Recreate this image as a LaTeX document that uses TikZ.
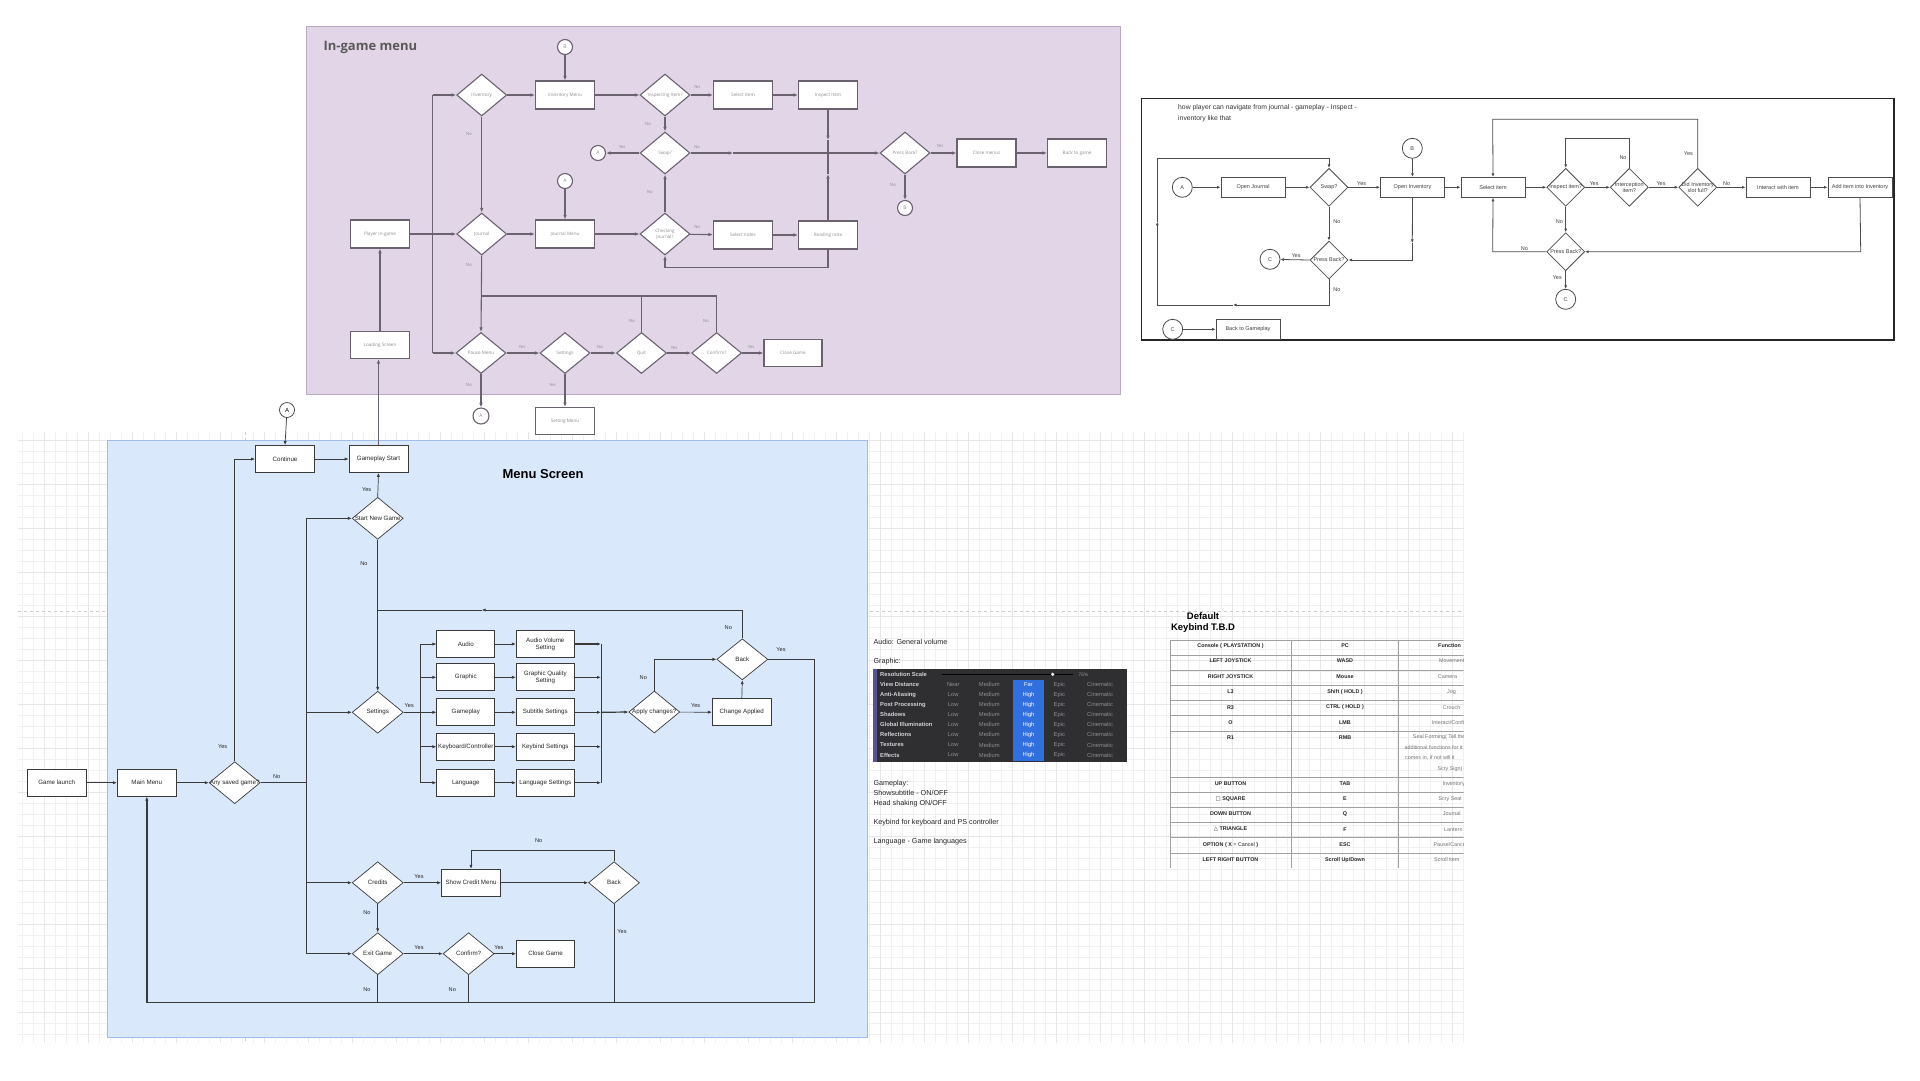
\documentclass[tikz,border=0pt]{standalone}
\usepackage{fontspec}
\setmainfont{Liberation Sans}
\newfontfamily\igfont{Open Sans}
\newfontfamily\symfont{DejaVu Sans}
\usetikzlibrary{shapes.geometric,arrows.meta}
\newcommand\fsz[2]{\fontsize{#1}{#2}\selectfont}
\definecolor{igfill}{HTML}{E1D5E7}
\definecolor{igborder}{HTML}{BCA9C6}
\definecolor{igline}{HTML}{6B6270}
\definecolor{igtext}{HTML}{8E8A90}
\definecolor{msfill}{HTML}{DAE8FC}
\definecolor{msborder}{HTML}{9FBDE8}
\definecolor{mline}{HTML}{3A3A3A}
\definecolor{gridc}{HTML}{F1F1F1}
\definecolor{gridm}{HTML}{E7E7E7}
\definecolor{tabbg}{HTML}{2F2F31}
\definecolor{tabhl}{HTML}{2F6FDE}
\definecolor{tabtxt}{HTML}{D2D2D2}
\definecolor{tabval}{HTML}{8E8E8E}
\definecolor{kbline}{HTML}{A0A0A0}
\begin{document}
\begin{tikzpicture}[x=1pt,y=-1pt,
  every label/.style={inner sep=0,align=center},
  gbox/.style={draw=igline,fill=white,line width=1.1,minimum width=59,minimum height=28,inner sep=0},
  gdia/.style={diamond,draw=igline,fill=white,line width=1.1,minimum width=50,minimum height=42,inner sep=0},
  gcirc/.style={circle,draw=igline,fill=white,line width=1.1,minimum size=15,inner sep=0,font=\igfont\fsz{5}{6},text=igtext},
  gl/.style={draw=igline,line width=1.1},
  ga/.style={gl,-{Latex[length=4.5pt,width=3.6pt]}},
  glab/.style={font=\igfont\fsz{4.2}{5},text=igtext,inner sep=0},
  mbox/.style={draw=mline,fill=white,line width=0.7,minimum width=59,minimum height=27,inner sep=0},
  mdia/.style={diamond,draw=mline,fill=white,line width=0.7,minimum width=51,minimum height=42,inner sep=0},
  mcirc/.style={circle,draw=mline,fill=white,line width=0.7,minimum size=15,inner sep=0,font=\fsz{6}{7}},
  ml/.style={draw=mline,line width=0.7},
  ma/.style={ml,-{Latex[length=4pt,width=3.2pt]}},
  mlab/.style={font=\fsz{5.6}{6.5},text=black!85,inner sep=0},
  rbox/.style={draw=black!70,fill=white,line width=0.8,minimum width=64,minimum height=20,inner sep=0},
  rdia/.style={diamond,draw=black!70,fill=white,line width=0.8,minimum width=38,minimum height=38,inner sep=0},
  rcirc/.style={circle,draw=black!70,fill=white,line width=0.8,minimum size=20,inner sep=0,font=\fsz{5.5}{6.5},text=black!75},
  rl/.style={draw=black!70,line width=0.8},
  ra/.style={rl,-{Latex[length=3.6pt,width=3pt]}},
  rlab/.style={font=\fsz{5.5}{6.5},text=black!75,inner sep=0},
  txt/.style={font=\fsz{7.2}{8.5},text=black!85,anchor=west,inner sep=0},
  tlab/.style={font=\bfseries\fsz{5.8}{6.5},text=tabtxt,anchor=west,inner sep=0},
  tval/.style={font=\fsz{5.8}{6.5},text=tabval,inner sep=0},
  thl/.style={font=\fsz{5.8}{6.5},text=white,inner sep=0},
  kb/.style={font=\bfseries\fsz{5.4}{6.5},text=black!85,inner sep=0},
  kbf/.style={font=\fsz{5.4}{6.5},text=black!55,anchor=west,inner sep=0},
]
\useasboundingbox (0,0) rectangle (1920,1080);
\fill[white] (0,0) rectangle (1920,1080);

% ---------- grid background ----------
\begin{scope}
\clip (18,432) rectangle (1464,1042);
\draw[gridc,line width=0.4pt,step=11pt] (0,420) grid (1470,1050);
\draw[gridm,line width=0.5pt,step=44pt] (0,420) grid (1470,1050);
\end{scope}
\draw[gray!40,dashed,line width=0.5] (18,611) -- (1464,611);
\draw[gray!40,dashed,line width=0.5] (245,432) -- (245,1042);

% ---------- frames ----------
\draw[igborder,fill=igfill,line width=1] (306,26) rectangle (1120,394);
\draw[msborder,fill=msfill,line width=0.8] (107,440) rectangle (867,1037);
\node[font=\igfont\bfseries\fsz{13}{15},text=black!65,anchor=west] (igtitle) at (320,47) {In-game menu};
\node[font=\bfseries\fsz{13}{15}] (mstitle) at (543,474) {Menu Screen};

% ---------- in-game menu ----------
\begin{scope}[every label/.append style={font=\igfont\fsz{4.6}{5.4},text=igtext}]
\node[gdia,label=center:Inventory] (inv) at (481.7,95) {};
\node[gbox,label=center:Inventory Menu] (invm) at (565,95) {};
\node[gdia,label=center:{Inspecting Item?}] (insq) at (665,95) {};
\node[gbox,label=center:Select Item] (seli) at (743,95) {};
\node[gbox,label=center:Inspect Item] (insi) at (828,95) {};
\node[gdia,label=center:Swap?] (swp) at (665,153) {};
\node[gcirc] (ca1) at (598,153) {A};
\node[gcirc] (cb1) at (565,47) {B};
\node[gcirc] (ca2) at (565,181) {A};
\node[gbox,label=center:Player In-game] (pig) at (380,234) {};
\node[gdia,label=center:Journal] (jou) at (481.7,234) {};
\node[gbox,label=center:Journal Menu] (joum) at (565,234) {};
\node[gdia,label=center:{Checking\\Journal?}] (chk) at (665,234) {};
\node[gbox,label=center:Select notes] (seln) at (743,235) {};
\node[gbox,label=center:Reading note] (rdn) at (828,235) {};
\node[gdia,label=center:{Press Back?}] (pb) at (905,153) {};
\node[gbox,label=center:Close menus] (clm) at (986.5,153) {};
\node[gbox,label=center:Back to game] (btg) at (1077,153) {};
\node[gcirc] (cb2) at (905,208) {B};
\node[gbox,minimum height=27,label=center:Loading Screen] (lds) at (380,345) {};
\node[gdia,minimum height=41,label=center:Pause Menu] (pm) at (481,353) {};
\node[gdia,minimum height=41,label=center:Settings] (pset) at (565,353) {};
\node[gdia,minimum height=41,label=center:Quit] (quit) at (641.5,353) {};
\node[gdia,minimum height=41,label=center:Confirm?] (conf) at (716.6,353) {};
\node[gbox,minimum width=58,minimum height=27,label=center:Close Game] (clg) at (793,353) {};
\node[gcirc,minimum size=16] (ca3) at (481,416) {A};
\node[gbox,minimum height=27,label=center:Setting Menu] (stm) at (565,421) {};
\end{scope}

\coordinate (tT) at (432.7,95);
\coordinate (tJ) at (432.7,234);
\coordinate (tB) at (432.7,353);
\coordinate (sm) at (733,153);
\coordinate (jn) at (828,153);
\coordinate (mA) at (828,140);
\coordinate (mB) at (828,174);
\coordinate (lp) at (481,296);
\coordinate (lq) at (641.5,296);

\draw[gl] (tT) -- (tB);
\draw[gl,line width=1.8] (pig.east) -- (tJ);
\draw[ga] (tJ) -- (jou.west);
\draw[ga] (tT) -- (inv.west);
\draw[ga] (tB) -- (pm.west);
\draw[ga] (inv) -- (invm);
\draw[ga] (inv.south) -- (jou.north);
\draw[ga] (cb1) -- (invm.north);
\draw[ga] (invm) -- (insq);
\draw[ga] (insq) -- (seli);
\draw[ga] (insq.south) -- (swp.north);
\draw[ga] (swp.west) -- (ca1);
\draw[ga] (swp.east) -- (sm);
\draw[ga] (sm) -- (pb.west);
\draw[ga] (seli) -- (insi);
\draw[ga] (insi.south) -- (mA);
\draw[gl] (mA) -- (jn);
\draw[ga] (rdn.north) -- (mB);
\draw[gl] (mB) -- (jn);
\draw[gl,line width=1.6] (jn) -- ++(40,0);
\draw[ga] (chk.north) -- (swp.south);
\draw[ga] (chk) -- (seln);
\draw[ga] (ca2) -- (joum.north);
\draw[ga] (jou) -- (joum);
\draw[ga] (joum) -- (chk);
\draw[ga] (seln) -- (rdn);
\draw[ga] (rdn.south) -- ++(0,18) -| (chk.south);
\draw[ga] (pb) -- (clm);
\draw[ga] (pb.south) -- (cb2);
\draw[ga] (clm) -- (btg);
\draw[ga] (lds.north) -- (pig.south);
\draw[ga] (jou.south) -- (pm.north);
\draw[gl,line width=1.8] (lp) -- (lq);
\draw[gl] (quit.north) -- (lq);
\draw[gl] (conf.north) |- (lq);
\draw[ga] (pm) -- (pset);
\draw[ga] (pset) -- (quit);
\draw[ga] (quit) -- (conf);
\draw[ga] (conf) -- (clg);
\draw[ga] (pm.south) -- (ca3);
\draw[ga] (pset.south) -- (stm.north);

\node[glab] (g1) at (469,134) {No};
\node[glab] (g2) at (697,87) {Yes};
\node[glab] (g3) at (648,124) {No};
\node[glab] (g4) at (622,147) {Yes};
\node[glab] (g5) at (697,147) {No};
\node[glab] (g6) at (650,192) {No};
\node[glab] (g7) at (697,227) {Yes};
\node[glab] (g8) at (940,146) {Yes};
\node[glab] (g9) at (893,185) {No};
\node[glab] (g10) at (469,265) {No};
\node[glab] (g11) at (632,321) {No};
\node[glab] (g12) at (706,321) {No};
\node[glab] (g13) at (522,347) {Yes};
\node[glab] (g14) at (600,347) {No};
\node[glab] (g15) at (674,348) {Yes};
\node[glab] (g16) at (751,347) {Yes};
\node[glab] (g17) at (469,385) {No};
\node[glab] (g18) at (552.5,385) {Yes};

% ---------- menu screen ----------
\begin{scope}[every label/.append style={font=\fsz{6.2}{7},text=black!85}]
\node[mbox,label=center:Continue] (cont) at (285,459) {};
\node[mbox,label=center:Gameplay Start] (gps) at (378.5,459) {};
\node[mcirc] (cA) at (287,410) {A};
\node[mdia,label=center:Start New Game] (snd) at (377.7,518.3) {};
\node[mdia,label=center:Settings] (set) at (377.7,712.3) {};
\node[mdia,label=center:{Any saved game?}] (asg) at (234.7,782.7) {};
\node[mbox,label=center:Main Menu] (mm) at (146.8,782.7) {};
\node[mbox,label=center:Game launch] (gla) at (56.7,782.7) {};
\node[mbox,minimum width=58,label=center:Audio] (aud) at (465.8,644) {};
\node[mbox,minimum width=58,label=center:Graphic] (gra) at (465.8,677.3) {};
\node[mbox,minimum width=58,label=center:Gameplay] (gpl) at (465.8,712.3) {};
\node[mbox,minimum width=58,label=center:Keyboard/Controller] (kbc) at (465.8,746.7) {};
\node[mbox,minimum width=58,label=center:Language] (lng) at (465.8,782.7) {};
\node[mbox,minimum width=58,label=center:{Audio Volume\\Setting}] (avs) at (545.3,644) {};
\node[mbox,minimum width=58,label=center:{Graphic Quality\\Setting}] (gqs) at (545.3,677.3) {};
\node[mbox,minimum width=58,label=center:Subtitle Settings] (sbs) at (545.3,712.3) {};
\node[mbox,minimum width=58,label=center:Keybind Settings] (kbs) at (545.3,746.7) {};
\node[mbox,minimum width=58,label=center:Language Settings] (lgs) at (545.3,782.7) {};
\node[mdia,label=center:{Apply changes?}] (apc) at (654.3,712) {};
\node[mbox,label=center:Change Applied] (cha) at (741.8,712.3) {};
\node[mdia,minimum height=41,label=center:Back] (bk1) at (742.3,659.3) {};
\node[mdia,label=center:Credits] (cred) at (377.7,882.7) {};
\node[mbox,label=center:Show Credit Menu] (scm) at (471,882.7) {};
\node[mdia,label=center:Back] (bk2) at (614,882.7) {};
\node[mdia,label=center:Exit Game] (exg) at (377.7,953.7) {};
\node[mdia,label=center:Confirm?] (cfm) at (468.6,953.7) {};
\node[mbox,minimum width=58,label=center:Close Game] (clg2) at (545.5,953.7) {};
\end{scope}

\coordinate (mT) at (306.7,518.3);
\coordinate (mS) at (306.7,712.3);
\coordinate (mN) at (306.7,782.7);
\coordinate (mC) at (306.7,882.7);
\coordinate (mB2) at (306.7,953.7);
\coordinate (bL) at (420.7,644);
\coordinate (bM) at (420.7,712.3);
\coordinate (bR) at (420.7,782.7);
\coordinate (cL) at (601,644);
\coordinate (cM) at (601,712.3);
\coordinate (cR) at (601,782.7);
\coordinate (lpA) at (481.7,610);
\coordinate (lpB) at (377.7,610);
\coordinate (btR) at (814,1002.7);
\coordinate (btL) at (146.8,1002.7);
\coordinate (crT) at (614,850.7);

\draw[ma] (gla) -- (mm);
\draw[ma] (mm) -- (asg);
\draw[ma] (asg.north) |- (cont.west);
\draw[ma] (cont) -- (gps);
\draw[ma] (cA) -- (cont.north);
\draw[ga] (gps.north) -- (gps.north |- lds.south);
\draw[ma] (snd.north) -- (gps.south);
\draw[ma] (snd.south) -- (set.north);
\draw[ml,line width=1.4] (asg.east) -- (mN);
\draw[ml] (mT) -- (mB2);
\draw[ma] (mT) -- (snd.west);
\draw[ma] (mS) -- (set.west);
\draw[ma] (mC) -- (cred.west);
\draw[ma] (mB2) -- (exg.west);
\draw[ml,line width=1.4] (set.east) -- (bM);
\draw[ml] (bL) -- (bR);
\draw[ma] (bL) -- (aud.west);
\draw[ma] (bL |- gra) -- (gra.west);
\draw[ma] (bM) -- (gpl.west);
\draw[ma] (bL |- kbc) -- (kbc.west);
\draw[ma] (bR) -- (lng.west);
\draw[ma] (aud) -- (avs);
\draw[ma] (gra) -- (gqs);
\draw[ma] (gpl) -- (sbs);
\draw[ma] (kbc) -- (kbs);
\draw[ma] (lng) -- (lgs);
\draw[ml] (cL) -- (cR);
\draw[ma,line width=1.2] (avs.east) -- (cL);
\draw[ma,line width=1.2] (gqs.east) -- (cL |- gqs);
\draw[ma,line width=1.2] (sbs.east) -- (cM);
\draw[ma,line width=1.2] (kbs.east) -- (cL |- kbs);
\draw[ma,line width=1.2] (lgs.east) -- (cR);
\draw[ma,line width=1.2] (cM) -- (apc.west);
\draw[ma] (apc) -- (cha);
\draw[ma] (apc.north) |- (bk1.west);
\draw[ma] (cha.north) -- (bk1.south);
\draw[ma] (bk1.north) |- (lpA);
\draw[ml] (lpA) -- (lpB);
\draw[ml] (bk1.east) -| (btR);
\draw[ml,line width=1.4] (btR) -- (btL);
\draw[ma,line width=1.4] (btL) -- (mm.south);
\draw[ma] (cred) -- (scm);
\draw[ma] (scm) -- (bk2);
\draw[ma] (bk2.north) -- (crT) -| (scm.north);
\draw[ml] (bk2.south) -- (bk2.south |- btR);
\draw[ma] (cred.south) -- (exg.north);
\draw[ma] (exg) -- (cfm);
\draw[ma] (cfm) -- (clg2);
\draw[ml] (exg.south) -- (exg.south |- btR);
\draw[ml] (cfm.south) -- (cfm.south |- btR);

\node[mlab] (m1) at (222.7,746.7) {Yes};
\node[mlab] (m2) at (276.7,776.7) {No};
\node[mlab] (m3) at (366.7,490) {Yes};
\node[mlab] (m4) at (364,564) {No};
\node[mlab] (m5) at (409.3,705.7) {Yes};
\node[mlab] (m6) at (695.7,705.7) {Yes};
\node[mlab] (m7) at (643.3,677.7) {No};
\node[mlab] (m8) at (728.3,627.3) {No};
\node[mlab] (m9) at (781,649.3) {Yes};
\node[mlab] (m10) at (419,876.7) {Yes};
\node[mlab] (m11) at (538.7,841) {No};
\node[mlab] (m12) at (622,932) {Yes};
\node[mlab] (m13) at (367,912.3) {No};
\node[mlab] (m14) at (419,947.3) {Yes};
\node[mlab] (m15) at (498.9,947.3) {Yes};
\node[mlab] (m16) at (367,989.3) {No};
\node[mlab] (m17) at (452.3,989.3) {No};

% ---------- settings notes ----------
\node[txt] (n1) at (873.3,641.7) {Audio: General volume};
\node[txt] (n2) at (873.3,661.7) {Graphic:};
\fill[tabbg] (873.3,669.3) rectangle (1126.7,761.7);
\fill[black!25!blue!35!gray] (873.3,669.3) rectangle (876.5,761.7);
\fill[tabhl] (1012.7,679.8) rectangle (1044.3,760.5);
\node[tlab] (tr1) at (880,674.3) {Resolution Scale};
\draw[black,line width=1.4] (941.7,674.3) -- (1073.3,674.3);
\fill[white!85!gray] (1052.7,674.3) circle (1.8);
\node[tval,font=\fsz{5}{6}] (tpc) at (1083.3,674.3) {76\%};
\foreach \lab/\yy [count=\i] in {View Distance/684.7,Anti-Aliasing/694.7,Post Processing/704.7,Shadows/714.7,Global Illumination/724.7,Reflections/734.7,Textures/745,Effects/755}
  \node[tlab] (tl\i) at (880,\yy) {\lab};
\foreach \va/\vc/\yy [count=\i] in {Near/Far/684.7,Low/High/694.7,Low/High/704.7,Low/High/714.7,Low/High/724.7,Low/High/734.7,Low/High/745,Low/High/755}{
  \node[tval] (tva\i) at (953.3,\yy) {\va};
  \node[tval] (tvb\i) at (989.3,\yy) {Medium};
  \node[thl] (tvc\i) at (1028.5,\yy) {\vc};
  \node[tval] (tvd\i) at (1059.3,\yy) {Epic};
  \node[tval] (tve\i) at (1100,\yy) {Cinematic};
}
\node[txt,anchor=north west,align=left,font=\fsz{7.2}{10}] (n3) at (873.3,780) {Gameplay:\\Showsubtitle - ON/OFF\\Head shaking ON/OFF};
\node[txt] (n4) at (873.3,822.3) {Keybind for keyboard and PS controller};
\node[txt] (n5) at (873.3,841.7) {Language - Game languages};

% ---------- keybind table ----------
\node[font=\bfseries\fsz{9.5}{11.5},align=center] (kbt) at (1203,622.5) {Default\\Keybind T.B.D};
\begin{scope}
\clip (1160,630) rectangle (1463.5,875);
\foreach \yy in {640,655,670,685,700,715,731,777.7,792.7,807.7,822.7,837.7,853.3}
  \draw[kbline,line width=0.9] (1170,\yy) -- (1470,\yy);
\foreach \xx in {1170,1291,1398.7}
  \draw[kbline,line width=0.9] (\xx,640) -- (\xx,868.3);
\node[kb] (kh1) at (1230.5,645.7) {Console ( PLAYSTATION )};
\node[kb] (kh2) at (1345,645.7) {PC};
\node[kb,anchor=west] (kh3) at (1438,645.7) {Function};
\foreach \ca/\cb/\cc/\xs/\yy [count=\i] in {
  {LEFT JOYSTICK}/WASD/Movement/1439/661,
  {RIGHT JOYSTICK}/Mouse/Camera/1437.7/676.3,
  L3/{Shift ( HOLD )}/Jog/1447/692,
  R3/{CTRL ( HOLD )}/Crouch/1442.7/707.3,
  O/LMB/{Interact/Confirm}/1431.7/722.3,
  R1/RMB/{Seal Forming( Tell the}/1412.7/737.3,
  {UP BUTTON}/TAB/Inventory/1442.3/783.7,
  {{\symfont □} SQUARE}/E/{Scry Seal}/1438.3/799,
  {DOWN BUTTON}/Q/Journal/1442.7/814,
  {{\symfont △} TRIANGLE}/F/Lantern/1444/829.3,
  {OPTION ( X {\mdseries= Cancel} )}/ESC/{Pause/Cancel}/1433.3/844.7,
  {LEFT RIGHT BUTTON}/{Scroll Up/Down}/{Scroll item}/1434/860}{
  \node[kb] (ka\i) at (1230.5,\yy) {\ca};
  \node[kb] (kc\i) at (1345,\yy) {\cb};
  \node[kbf] (kd\i) at (\xs,\yy) {\cc};
}
\node[kbf] (kr2) at (1404.3,747.3) {additional functions for it};
\node[kbf] (kr3) at (1405,758.3) {comes in, if not will it};
\node[kbf] (kr4) at (1437.3,769) {Scry Sign)};
\end{scope}

% ---------- right flow box ----------
\draw[black!85,line width=1.5] (1141.7,98.3) rectangle (1894,340);
\node[font=\fsz{6.8}{11.7},text=black!80,anchor=north west,align=left,inner sep=0] (rtitle) at (1178,104) {how player can navigate from journal - gameplay - Inspect -\\inventory like that};
\begin{scope}[every label/.append style={font=\fsz{5.5}{6.5},text=black!75}]
\node[rcirc] (rA) at (1182.3,187.3) {A};
\node[rbox,label=center:Open Journal] (roj) at (1253,187.3) {};
\node[rdia,label=center:Swap?] (rsw) at (1329,187.3) {};
\node[rbox,label=center:Open Inventory] (roi) at (1412.5,187.3) {};
\node[rcirc] (rB) at (1412.3,148.3) {B};
\node[rbox,label=center:Select item] (rsel) at (1493,187.3) {};
\node[rdia,label=center:{Press Back?}] (rpb1) at (1329,260) {};
\node[rcirc] (rC1) at (1270,259.3) {C};
\node[rcirc] (rC2) at (1172.7,329.3) {C};
\node[rbox,label=center:Back to Gameplay] (rbg) at (1248,329.3) {};
\node[rdia,label=center:{Inspect item?}] (rii) at (1565.7,187.3) {};
\node[rdia,label=center:{Interception\\item?}] (rint) at (1629.3,187.3) {};
\node[rdia,label=center:{Did Inventory\\slot full?}] (rdid) at (1697.7,187.3) {};
\node[rbox,label=center:Interact with item] (rinter) at (1778,187.3) {};
\node[rbox,label=center:Add item into Inventory] (radd) at (1860,187.3) {};
\node[rdia,label=center:{Press Back?}] (rpb2) at (1565.7,251.7) {};
\node[rcirc] (rC3) at (1565.7,299.3) {C};
\end{scope}

\coordinate (rq1) at (1412.3,243);
\coordinate (rq2) at (1233,305);
\coordinate (rq3) at (1157.3,221.7);
\coordinate (rq4) at (1329,158.3);
\coordinate (rq5) at (1565.7,138.3);
\coordinate (rq6) at (1697.7,119.3);
\coordinate (rq7) at (1492.7,119.3);
\coordinate (rq8) at (1860.7,251.7);
\coordinate (rq9) at (1492.7,251.7);

\draw[ra] (rA) -- (roj);
\draw[ra] (roj) -- (rsw);
\draw[ra] (rsw) -- (roi);
\draw[ra] (rB) -- (roi.north);
\draw[ra] (roi) -- (rsel);
\draw[ra] (rsw.south) -- (rpb1.north);
\draw[ra] (roi.south) -- (rq1);
\draw[ra] (rq1) |- (rpb1.east);
\draw[ra] (rpb1.west) -- (rC1);
\draw[ra] (rpb1.south) |- (rq2);
\draw[ra] (rq2) -| (rq3);
\draw[ra] (rq3) |- (rq4) -- (rsw.north);
\draw[ra] (rC2) -- (rbg);
\draw[ra] (rsel) -- (rii);
\draw[ra] (rii) -- (rint);
\draw[ra] (rint.north) |- (rq5) -- (rii.north);
\draw[ra] (rint) -- (rdid);
\draw[ra] (rdid.north) -- (rq6) -- (rq7) -- (rsel.north);
\draw[ra] (rdid) -- (rinter);
\draw[ra] (rinter) -- (radd);
\draw[ra] (radd.south) -- (rq8) -- (rpb2.east);
\draw[ra] (rii.south) -- (rpb2.north);
\draw[ra] (rpb2.west) -- (rq9) -- (rsel.south);
\draw[ra] (rpb2.south) -- (rC3);

\node[rlab] (r1) at (1361.7,183.3) {Yes};
\node[rlab] (r2) at (1337,221.7) {No};
\node[rlab] (r3) at (1296,255.7) {Yes};
\node[rlab] (r4) at (1337,290) {No};
\node[rlab] (r5) at (1594,184) {Yes};
\node[rlab] (r6) at (1623,157.7) {No};
\node[rlab] (r7) at (1661,184) {Yes};
\node[rlab] (r8) at (1688.3,154) {Yes};
\node[rlab] (r9) at (1726.7,184) {No};
\node[rlab] (r10) at (1559.3,221.7) {No};
\node[rlab] (r11) at (1524.3,248.3) {No};
\node[rlab] (r12) at (1557.3,277.3) {Yes};
\end{tikzpicture}
\end{document}
